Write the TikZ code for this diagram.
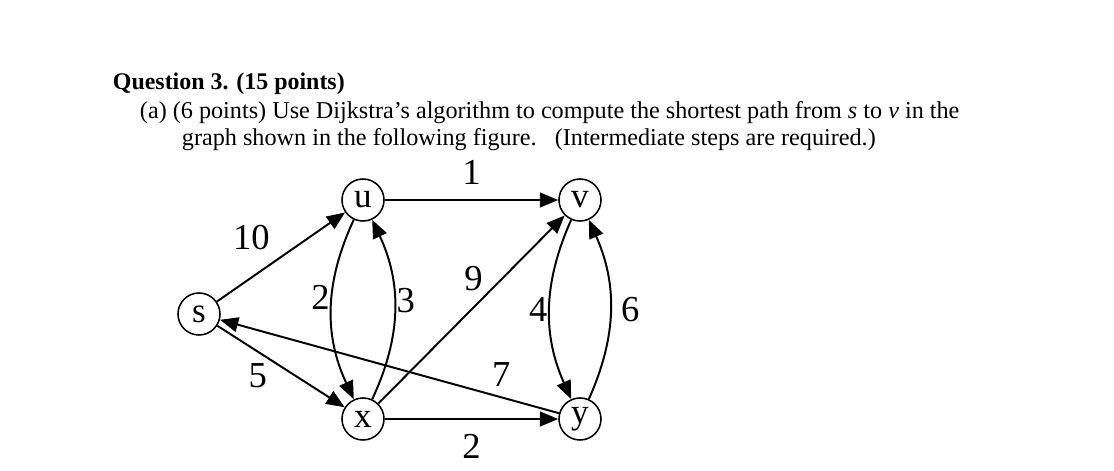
\documentclass[tikz,border=0pt]{standalone}
\usepackage{fontspec}
\setmainfont{Liberation Serif}
\usetikzlibrary{arrows.meta, positioning}

\begin{document}
\begin{tikzpicture}[x=0.025cm, y=0.025cm,
    vertex/.style={draw, circle, line width=1.1pt, minimum size=1.05cm, inner sep=0pt, font=\fontsize{25}{28}\selectfont},
    arc/.style={-{Triangle[length=13pt, width=10.5pt]}, line width=1.4pt},
    wt/.style={font=\fontsize{26}{30}\selectfont, inner sep=2pt},
    txt/.style={anchor=base west, font=\fontsize{17.2}{20}\selectfont}]
    \useasboundingbox (0,0) rectangle (1114,470);

    % question text
    \node[txt, font=\fontsize{17}{20}\selectfont\bfseries] (title) at (108,381) {Question 3. (15 points)};
    \node[txt] (part) at (135,352) {(a) (6 points) Use Dijkstra’s algorithm to compute the shortest path from \textit{s} to \textit{v} in the};
    \node[txt] (part2) at (177,325) {graph shown in the following figure.\ \ \ (Intermediate steps are required.)};

    % vertices
    \node[vertex] (s) at (199,156) {s};
    \node[vertex] (u) at (363,270) {u};
    \node[vertex] (v) at (580,270) {v};
    \node[vertex] (x) at (363,51) {x};
    \node[vertex] (y) at (580,51) {y};

    % edges
    \draw[arc] (s) -- node[wt, pos=0.48, above left=5pt] (wsu) {10} (u);
    \draw[arc] (s) -- node[wt, pos=0.42, below left] (wsx) {5} (x);
    \draw[arc] (u) -- node[wt, above=8pt] (wuv) {1} (v);
    \draw[arc] (x) -- node[wt, below=8pt] (wxy) {2} (y);
    \draw[arc] (x) -- node[wt, pos=0.58, above left] (wxv) {9} (v);
    \draw[arc] (y) -- node[wt, pos=0.17, above=5pt] (wys) {7} (s);
    \draw[arc] (u) to[bend right=25] node[wt, pos=0.43, left, inner sep=1pt] (wux) {2} (x);
    \draw[arc] (x) to[bend right=25] node[wt, pos=0.55, right, inner sep=1pt] (wxu) {3} (u);
    \draw[arc] (v) to[bend right=24] node[wt, pos=0.5, left, inner sep=1pt] (wvy) {4} (y);
    \draw[arc] (y) to[bend right=24] node[wt, pos=0.5, right, inner sep=7pt] (wyv) {6} (v);
\end{tikzpicture}
\end{document}
